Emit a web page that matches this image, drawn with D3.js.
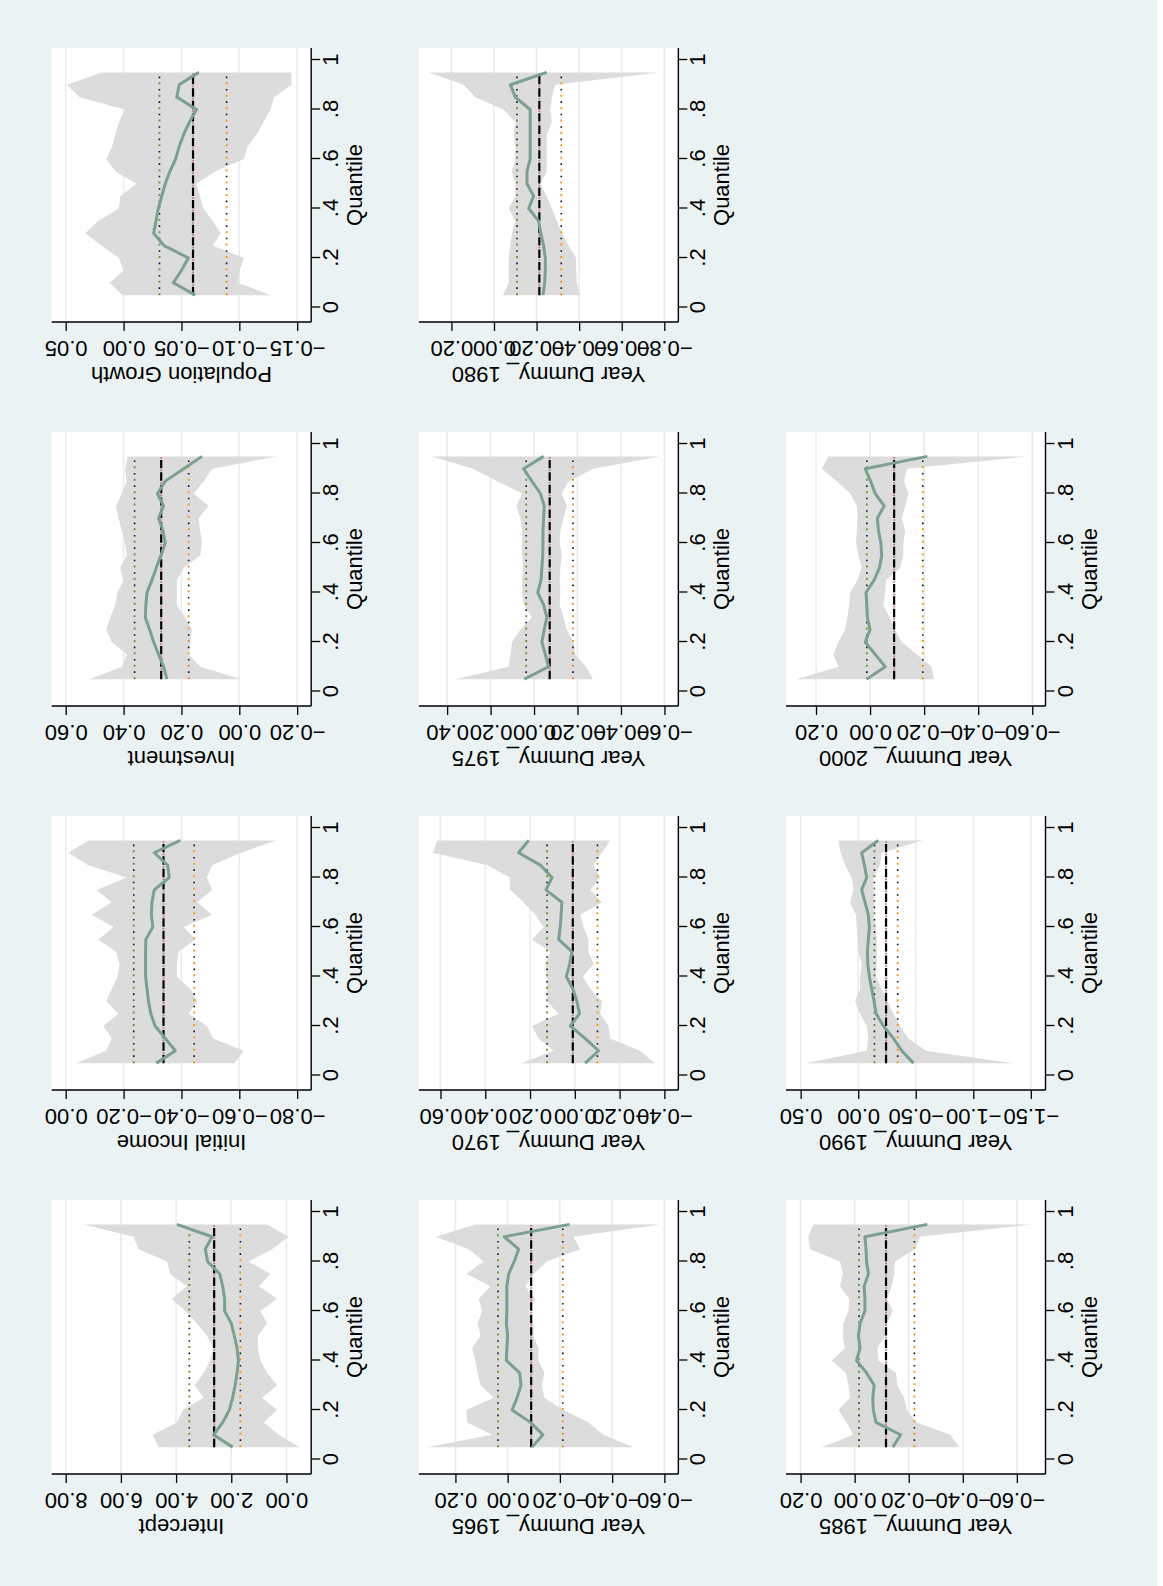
<!DOCTYPE html>
<html><head><meta charset="utf-8">
<script src="https://cdn.jsdelivr.net/npm/d3@7"></script>
<style>html,body{margin:0;padding:0;background:#fff;} svg{display:block;}</style>
</head><body>
<svg id="chart" width="1163" height="1586"></svg>
<script>
// ---------------- DATA ----------------
const quantiles = [0.05,0.10,0.15,0.20,0.25,0.30,0.35,0.40,0.45,0.50,0.55,0.60,0.65,0.70,0.75,0.80,0.85,0.90,0.95];
const xTickValues = [0,0.2,0.4,0.6,0.8,1];
const xTickLabels = ["0",".2",".4",".6",".8","1"];
const xTitle = "Quantile";
const panelTitles = ["Intercept","Initial Income","Investment","Population Growth",
  "Year Dummy_ 1965","Year Dummy_ 1970","Year Dummy_ 1975","Year Dummy_ 1980",
  "Year Dummy_ 1985","Year Dummy_ 1990","Year Dummy_ 2000"];

// y tick values per panel
const ticksIntercept = [0,2,4,6,8];
const ticksIncome = [-0.8,-0.6,-0.4,-0.2,0];
const ticksInvest = [-0.2,0,0.2,0.4,0.6];
const ticksPop = [-0.15,-0.10,-0.05,0,0.05];
const ticks1965 = [-0.6,-0.4,-0.2,0,0.2];
const ticks1970 = [-0.4,-0.2,0,0.2,0.4,0.6];
const ticks1975 = [-0.6,-0.4,-0.2,0,0.2,0.4];
const ticks1980 = [-0.8,-0.6,-0.4,-0.2,0,0.2];
const ticks1985 = [-0.6,-0.4,-0.2,0,0.2];
const ticks1990 = [-1.5,-1.0,-0.5,0,0.5];
const ticks2000 = [-0.6,-0.4,-0.2,0,0.2];

// y axis ranges [min, max]
const rangeIntercept = [-0.897, 8.508];
const rangeIncome = [-0.8485, 0.0485];
const rangeInvest = [-0.2485, 0.6485];
const rangePop = [-0.1621, 0.0621];
const range1965 = [-0.6535, 0.340];
const range1970 = [-0.4624, 0.6966];
const range1975 = [-0.664, 0.530];
const range1980 = [-0.866, 0.353];
const range1985 = [-0.706, 0.254];
const range1990 = [-1.6275, 0.6275];
const range2000 = [-0.649, 0.311];

// quantile regression estimates, lower / upper CI
const estIntercept = [1.95,2.64,2.31,2.07,1.95,1.86,1.79,1.74,1.79,1.89,2.00,2.24,2.24,2.31,2.42,2.86,2.94,2.70,3.97];
const hiIntercept  = [4.64,4.85,3.97,3.75,3.00,3.33,3.00,2.76,2.66,2.88,3.24,3.67,4.15,3.61,4.21,4.33,5.36,5.54,7.36];
const loIntercept  = [-0.48,0.28,0.82,0.34,0.88,0.34,0.70,0.94,1.04,1.03,0.70,0.94,0.34,1.00,0.58,1.37,0.52,-0.08,0.70];

const estIncome = [-0.313,-0.379,-0.344,-0.309,-0.294,-0.286,-0.281,-0.276,-0.276,-0.276,-0.277,-0.301,-0.296,-0.298,-0.306,-0.358,-0.352,-0.306,-0.396];
const hiIncome  = [-0.035,-0.140,-0.159,-0.130,-0.182,-0.140,-0.159,-0.179,-0.186,-0.174,-0.113,-0.165,-0.090,-0.159,-0.107,-0.211,-0.078,-0.009,-0.078];
const loIncome  = [-0.583,-0.615,-0.509,-0.488,-0.425,-0.454,-0.431,-0.384,-0.384,-0.390,-0.448,-0.408,-0.506,-0.454,-0.506,-0.488,-0.506,-0.604,-0.728];

const estInvest = [0.250,0.262,0.279,0.296,0.310,0.325,0.323,0.319,0.302,0.287,0.271,0.256,0.264,0.279,0.262,0.283,0.256,0.192,0.129];
const hiInvest  = [0.518,0.406,0.389,0.441,0.460,0.446,0.429,0.421,0.400,0.412,0.389,0.395,0.406,0.418,0.426,0.406,0.389,0.395,0.386];
const loInvest  = [-0.006,0.135,0.175,0.169,0.164,0.187,0.216,0.216,0.216,0.192,0.135,0.129,0.135,0.141,0.106,0.158,0.123,0.094,-0.131];

const estPop = [-0.062,-0.043,-0.050,-0.056,-0.035,-0.026,-0.028,-0.030,-0.033,-0.036,-0.040,-0.045,-0.048,-0.052,-0.057,-0.063,-0.046,-0.048,-0.065];
const hiPop  = [0.001,0.012,0.000,0.004,0.019,0.033,0.022,0.004,0.003,-0.011,0.007,0.015,0.010,0.007,0.004,-0.001,0.038,0.049,0.019];
const loPop  = [-0.127,-0.099,-0.100,-0.104,-0.077,-0.084,-0.077,-0.069,-0.066,-0.063,-0.079,-0.104,-0.107,-0.115,-0.121,-0.127,-0.130,-0.145,-0.145];

const est1965 = [-0.093,-0.135,-0.087,-0.017,-0.036,-0.051,-0.046,0.005,0.003,0.000,0.005,0.003,0.003,0.003,-0.004,-0.025,-0.042,0.013,-0.237];
const hi1965  = [0.308,0.060,0.155,0.158,0.053,0.104,0.115,0.124,0.136,0.104,0.115,0.098,0.111,0.066,0.158,0.092,0.149,0.276,0.124];
const lo1965  = [-0.482,-0.367,-0.310,-0.214,-0.140,-0.131,-0.141,-0.118,-0.118,-0.099,-0.099,-0.080,-0.106,-0.068,-0.099,-0.150,-0.278,-0.252,-0.583];

const est1970 = [-0.046,-0.106,-0.046,0.020,-0.021,-0.009,0.009,0.038,0.023,0.013,0.072,0.065,0.061,0.058,0.129,0.102,0.154,0.251,0.206];
const hi1970  = [0.240,0.095,0.162,0.191,0.073,0.125,0.125,0.125,0.132,0.110,0.191,0.139,0.177,0.229,0.288,0.291,0.389,0.634,0.615];
const lo1970  = [-0.358,-0.292,-0.158,-0.150,-0.113,-0.121,-0.069,-0.036,-0.084,-0.061,-0.061,-0.039,-0.024,-0.121,-0.069,-0.113,-0.084,-0.121,-0.158];

const est1975 = [0.045,-0.067,-0.052,-0.036,-0.047,-0.059,-0.044,-0.017,-0.032,-0.036,-0.040,-0.041,-0.041,-0.044,-0.047,-0.029,0.010,0.048,-0.044];
const hi1975  = [0.362,0.117,0.109,0.101,0.063,0.010,0.048,0.055,0.055,0.051,0.055,0.055,0.055,0.063,0.081,0.055,0.170,0.281,0.469];
const lo1975  = [-0.271,-0.240,-0.190,-0.182,-0.151,-0.136,-0.118,-0.121,-0.118,-0.121,-0.128,-0.118,-0.121,-0.136,-0.151,-0.128,-0.159,-0.274,-0.577];

const est1980 = [-0.230,-0.238,-0.241,-0.241,-0.233,-0.220,-0.209,-0.163,-0.186,-0.155,-0.155,-0.170,-0.170,-0.170,-0.170,-0.170,-0.100,-0.077,-0.248];
const hi1980  = [-0.042,-0.069,-0.069,-0.069,-0.077,-0.084,-0.100,-0.069,-0.100,-0.100,-0.084,-0.100,-0.100,-0.092,-0.100,-0.045,0.088,0.142,0.306];
const lo1980  = [-0.405,-0.389,-0.386,-0.386,-0.350,-0.319,-0.295,-0.272,-0.248,-0.217,-0.248,-0.248,-0.248,-0.248,-0.272,-0.264,-0.272,-0.288,-0.777];

const est1985 = [-0.141,-0.170,-0.079,-0.069,-0.067,-0.072,-0.044,-0.007,-0.020,-0.014,-0.020,-0.038,-0.038,-0.035,-0.051,-0.044,-0.042,-0.038,-0.269];
const hi1985  = [0.122,0.005,0.030,0.060,0.017,0.023,0.032,0.085,0.036,0.044,0.042,0.023,0.020,0.054,0.044,0.054,0.165,0.172,0.153];
const lo1985  = [-0.388,-0.353,-0.230,-0.193,-0.183,-0.158,-0.153,-0.088,-0.084,-0.112,-0.119,-0.141,-0.119,-0.137,-0.146,-0.149,-0.223,-0.242,-0.656];

const est1990 = [-0.480,-0.378,-0.306,-0.219,-0.155,-0.138,-0.117,-0.097,-0.083,-0.080,-0.088,-0.097,-0.088,-0.059,-0.030,-0.074,-0.054,-0.030,-0.175];
const hi1990  = [0.454,-0.074,-0.088,-0.074,-0.016,0.028,-0.016,-0.016,-0.030,-0.001,0.007,0.013,0.019,0.071,0.042,0.057,0.114,0.152,0.172];
const lo1990  = [-1.343,-0.590,-0.436,-0.364,-0.306,-0.254,-0.204,-0.155,-0.161,-0.161,-0.161,-0.155,-0.138,-0.146,-0.132,-0.132,-0.190,-0.204,-0.561];

const est2000 = [0.012,-0.056,-0.019,0.018,0.000,0.010,0.012,0.015,-0.015,-0.035,-0.043,-0.040,-0.031,-0.027,-0.052,-0.019,-0.002,0.018,-0.212];
const hi2000  = [0.272,0.117,0.136,0.117,0.093,0.084,0.077,0.074,0.047,0.031,0.043,0.052,0.049,0.047,0.049,0.074,0.123,0.179,0.154];
const lo2000  = [-0.237,-0.228,-0.173,-0.117,-0.093,-0.072,-0.049,-0.056,-0.059,-0.111,-0.123,-0.123,-0.130,-0.117,-0.130,-0.142,-0.126,-0.136,-0.584];

// OLS: [estimate, lower CI, upper CI]
const olsIntercept = [2.62, 1.67, 3.52];
const olsIncome = [-0.338, -0.444, -0.235];
const olsInvest = [0.270, 0.175, 0.362];
const olsPop = [-0.060, -0.089, -0.031];
const ols1965 = [-0.090, -0.211, 0.037];
const ols1970 = [0.009, -0.101, 0.124];
const ols1975 = [-0.072, -0.179, 0.036];
const ols1980 = [-0.213, -0.316, -0.108];
const ols1985 = [-0.116, -0.221, -0.016];
const ols1990 = [-0.242, -0.343, -0.141];
const ols2000 = [-0.089, -0.195, 0.012];

const panels = [
  {ticks:ticksIntercept, range:rangeIntercept, est:estIntercept, lo:loIntercept, hi:hiIntercept, ols:olsIntercept},
  {ticks:ticksIncome, range:rangeIncome, est:estIncome, lo:loIncome, hi:hiIncome, ols:olsIncome},
  {ticks:ticksInvest, range:rangeInvest, est:estInvest, lo:loInvest, hi:hiInvest, ols:olsInvest},
  {ticks:ticksPop, range:rangePop, est:estPop, lo:loPop, hi:hiPop, ols:olsPop},
  {ticks:ticks1965, range:range1965, est:est1965, lo:lo1965, hi:hi1965, ols:ols1965},
  {ticks:ticks1970, range:range1970, est:est1970, lo:lo1970, hi:hi1970, ols:ols1970},
  {ticks:ticks1975, range:range1975, est:est1975, lo:lo1975, hi:hi1975, ols:ols1975},
  {ticks:ticks1980, range:range1980, est:est1980, lo:lo1980, hi:hi1980, ols:ols1980},
  {ticks:ticks1985, range:range1985, est:est1985, lo:lo1985, hi:hi1985, ols:ols1985},
  {ticks:ticks1990, range:range1990, est:est1990, lo:lo1990, hi:hi1990, ols:ols1990},
  {ticks:ticks2000, range:range2000, est:est2000, lo:lo2000, hi:hi2000, ols:ols2000}
].map((p,i)=>Object.assign(p,{title:panelTitles[i]}));

// ---------------- DRAW ----------------
const FONT = "'Liberation Sans', Arial, Helvetica, sans-serif";
const svg = d3.select("#chart");
// The whole (landscape) figure is drawn in its own frame and rotated 90° counter-clockwise.
const root = svg.append("g").attr("transform","translate(0,1586) rotate(-90)");
root.append("rect").attr("x",0).attr("y",0).attr("width",1586).attr("height",1157).attr("fill","#eaf2f3");

const W = 274, H = 259.5;
panels.forEach((p,i)=>{
  const c = i % 4, r = Math.floor(i / 4);
  const x0 = 112 + 384 * c, y0 = 51.7 + 367.15 * r;
  const g = root.append("g").attr("transform",`translate(${x0},${y0})`);
  const x = d3.scaleLinear().domain([0,1]).range([14.5, 262]);
  const y = d3.scaleLinear().domain(p.range).range([H, 0]);

  g.append("rect").attr("x",0).attr("y",0).attr("width",W).attr("height",H).attr("fill","#ffffff");
  g.selectAll("line.grid").data(p.ticks).join("line").attr("class","grid")
    .attr("x1",0).attr("x2",W).attr("y1",d=>y(d)).attr("y2",d=>y(d))
    .attr("stroke","#e4edf0").attr("stroke-width",1.6);

  const rows = quantiles.map((q,j)=>({q, est:p.est[j], lo:p.lo[j], hi:p.hi[j]}));
  const area = d3.area().x(d=>x(d.q)).y0(d=>y(d.lo)).y1(d=>y(d.hi));
  g.append("path").datum(rows).attr("d",area).attr("fill","#dcdcdc");

  const ends = [quantiles[0], quantiles[quantiles.length-1]];
  const hline = v => d3.line().x(d=>x(d)).y(()=>y(v))(ends);
  // OLS upper CI (dotted green/black)
  g.append("path").attr("d",hline(p.ols[2])).attr("stroke","#6f9a3f").attr("stroke-width",2).attr("fill","none").attr("stroke-dasharray","2 10.4");
  g.append("path").attr("d",hline(p.ols[2])).attr("stroke","#111").attr("stroke-width",1.6).attr("fill","none").attr("stroke-dasharray","1.6 10.8").attr("stroke-dashoffset",-6.2);
  // OLS lower CI (dotted orange/black)
  g.append("path").attr("d",hline(p.ols[1])).attr("stroke","#f0a020").attr("stroke-width",2).attr("fill","none").attr("stroke-dasharray","2 10.4");
  g.append("path").attr("d",hline(p.ols[1])).attr("stroke","#111").attr("stroke-width",1.6).attr("fill","none").attr("stroke-dasharray","1.6 10.8").attr("stroke-dashoffset",-6.2);
  // OLS estimate (dashed black with rose dots)
  g.append("path").attr("d",hline(p.ols[0])).attr("stroke","#000").attr("stroke-width",2.2).attr("fill","none").attr("stroke-dasharray","8.4 4");
  g.append("path").attr("d",hline(p.ols[0])).attr("stroke","#c77a86").attr("stroke-width",2).attr("fill","none").attr("stroke-dasharray","1.6 10.8").attr("stroke-dashoffset",-9.6);

  // quantile estimate
  g.append("path").datum(rows).attr("d",d3.line().x(d=>x(d.q)).y(d=>y(d.est)))
    .attr("fill","none").attr("stroke","#7c9f90").attr("stroke-width",3).attr("stroke-linejoin","round");

  // y axis
  const ya = g.append("g")
    .call(d3.axisLeft(y).tickValues(p.ticks).tickSize(9).tickSizeOuter(0).tickFormat(d3.format(".2f")))
    .attr("font-family",FONT).attr("font-size",22);
  ya.select(".domain").remove();
  ya.selectAll(".tick line").attr("stroke","#000").attr("stroke-width",1.3);
  ya.selectAll(".tick text").attr("x",0).attr("y",0).attr("dy",null).attr("fill","#000")
    .attr("text-anchor","middle").attr("transform","translate(-19,0) rotate(-90)");

  // x axis
  const xa = g.append("g").attr("transform",`translate(0,${H})`)
    .call(d3.axisBottom(x).tickValues(xTickValues).tickSize(9).tickSizeOuter(0).tickFormat((d,k)=>xTickLabels[k]))
    .attr("font-family",FONT).attr("font-size",22);
  xa.select(".domain").remove();
  xa.selectAll(".tick line").attr("stroke","#000").attr("stroke-width",1.3);
  xa.selectAll(".tick text").attr("y",27).attr("dy",null).attr("fill","#000");

  // axis lines spanning the plot region
  g.append("line").attr("x1",0).attr("x2",0).attr("y1",0).attr("y2",H).attr("stroke","#000").attr("stroke-width",1.4);
  g.append("line").attr("x1",0).attr("x2",W).attr("y1",H).attr("y2",H).attr("stroke","#000").attr("stroke-width",1.4);

  // titles
  g.append("text").attr("x",W/2).attr("y",H+51).attr("text-anchor","middle")
    .attr("font-family",FONT).attr("font-size",22).attr("fill","#000").text(xTitle);
  g.append("text").attr("transform",`translate(-45,${H/2}) rotate(-90)`).attr("text-anchor","middle")
    .attr("font-family",FONT).attr("font-size",22).attr("fill","#000").text(p.title);
});
</script>
</body></html>
